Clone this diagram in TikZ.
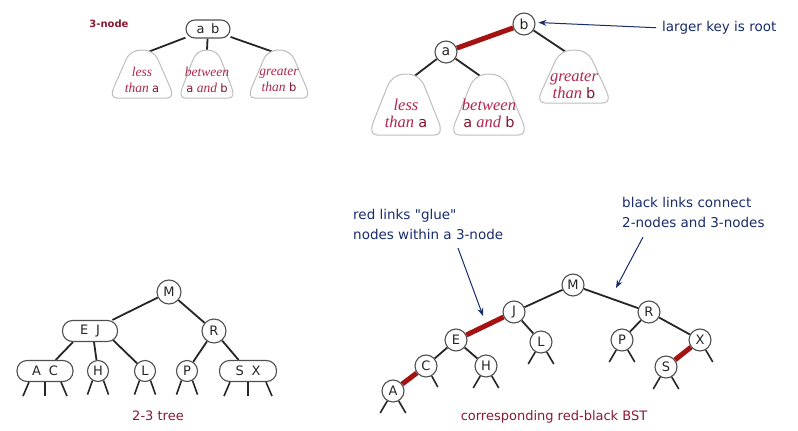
\documentclass[tikz,border=0pt]{standalone}
\usepackage{fontspec}
\setsansfont{DejaVu Sans}
\newfontfamily\rbserif{Liberation Serif}
\usetikzlibrary{arrows.meta,calc}
\pgfdeclarelayer{background}
\pgfsetlayers{background,main}
\definecolor{lblred}{RGB}{140,25,50}
\definecolor{trired}{RGB}{178,38,78}
\definecolor{keyred}{RGB}{130,22,45}
\definecolor{linkred}{RGB}{165,18,18}
\definecolor{navy}{RGB}{25,45,110}
\definecolor{trigray}{RGB}{190,190,190}
\definecolor{nodegray}{RGB}{80,80,80}
\newcommand{\rbtks}[1]{{\sffamily\upshape\fontsize{11.5}{11.5}\selectfont\color{keyred}#1}}
\newcommand{\rbtkb}[1]{{\sffamily\upshape\fontsize{14.5}{14.5}\selectfont\color{keyred}#1}}
\newcommand{\subtri}[5]{%
  \begin{scope}[shift={(#2,#3)}]
    \draw[tri] (0,0) .. controls (0.25*#4,0) and (0.42*#4,0.08*#5) .. (0.5*#4,0.2*#5)
      -- (0.88*#4,0.78*#5)
      .. controls (0.96*#4,0.9*#5) and (0.95*#4,1.0*#5) .. (0.78*#4,1.0*#5)
      -- (-0.78*#4,1.0*#5)
      .. controls (-0.95*#4,1.0*#5) and (-0.96*#4,0.9*#5) .. (-0.88*#4,0.78*#5)
      -- (-0.5*#4,0.2*#5)
      .. controls (-0.42*#4,0.08*#5) and (-0.25*#4,0) .. (0,0) -- cycle;
    \coordinate (#1) at (0,0);
    \coordinate (#1-l) at (-0.24*#4,0.028*#5);
    \coordinate (#1-r) at (0.24*#4,0.028*#5);
  \end{scope}}
\begin{document}
\begin{tikzpicture}[x=1pt,y=-1pt,
  key/.style={circle, draw=nodegray, line width=1.1pt, fill=white, inner sep=0pt,
    minimum size=22pt, font=\sffamily\fontsize{13}{13}\selectfont, text=black!85},
  key3/.style={rectangle, rounded corners=10pt, draw=nodegray, line width=1.1pt,
    fill=white, inner sep=0pt, minimum height=21pt,
    font=\sffamily\fontsize{13}{13}\selectfont, text=black!85},
  link/.style={line width=1.8pt, black!85},
  redlink/.style={line width=5pt, linkred},
  stub/.style={line width=1.6pt, black!85},
  tri/.style={draw=trigray, line width=1pt, fill=white},
  trismall/.style={align=center, text=trired, font=\rbserif\itshape\fontsize{13.5}{15.5}\selectfont},
  tribig/.style={align=center, text=trired, font=\rbserif\itshape\fontsize{16.5}{17}\selectfont},
  note/.style={inner sep=0pt, align=left, text=navy, font=\sffamily\fontsize{13.5}{20}\selectfont},
  pointer/.style={navy, line width=1pt, -{Stealth[length=8pt,width=6pt]}},
  caption/.style={text=lblred, font=\sffamily\fontsize{13}{13}\selectfont}]
\begin{pgfonlayer}{background}
\fill[white] (0,0) rectangle (798,431);
\end{pgfonlayer}
\useasboundingbox (0,0) rectangle (798,431);

% ---------- top left: 3-node ----------
\node[text=lblred, font=\sffamily\bfseries\fontsize{10}{10}\selectfont] (lbl3) at (109,24) {3-node};
\node[key3, minimum width=44pt, minimum height=18pt, rounded corners=9pt] (ab) at (208,29) {a\hspace{0.5em}b};
\subtri{t1}{142}{50}{32}{48}
\subtri{t2}{207}{50}{28}{48}
\subtri{t3}{279}{50}{31}{48}
\node[trismall] (t1txt) at (142,80) {less\\than \rbtks{a}};
\node[trismall] (t2txt) at (207,80) {between\\\rbtks{a} and \rbtks{b}};
\node[trismall] (t3txt) at (279,80) {greater\\than \rbtks{b}};
\begin{pgfonlayer}{background}
\draw[link] (ab) -- (t1-r);
\draw[link] (ab) -- (t2);
\draw[link] (ab) -- (t3-l);
\end{pgfonlayer}

% ---------- top right: red-black equivalent ----------
\node[key, font=\sffamily\fontsize{14}{14}\selectfont] (b) at (524,24) {b};
\node[key, font=\sffamily\fontsize{14}{14}\selectfont] (a) at (446,52) {a};
\subtri{T1}{406}{74}{37}{61}
\subtri{T2}{489}{74}{38}{61}
\subtri{T3}{574}{50}{37}{53}
\node[tribig] (T1txt) at (406,113) {less\\than \rbtkb{a}};
\node[tribig] (T2txt) at (489,113) {between\\\rbtkb{a} and \rbtkb{b}};
\node[tribig] (T3txt) at (574,85) {greater\\than \rbtkb{b}};
\begin{pgfonlayer}{background}
\draw[redlink] (a) -- (b);
\draw[link] (a) -- (T1-r);
\draw[link] (a) -- (T2-l);
\draw[link] (b) -- (T3-l);
\end{pgfonlayer}
\node[note, anchor=west] (lk) at (662,28) {larger key is root};
\draw[pointer, shorten <=6pt, shorten >=3pt] (lk.west) -- (b.8);

% ---------- bottom left: 2-3 tree ----------
\node[key, minimum size=24pt] (M1) at (169,292) {M};
\node[key3, minimum width=55pt] (EJ) at (90,331) {E\hspace{0.6em}J};
\node[key, minimum size=24pt] (R1) at (214,331) {R};
\node[key3, minimum width=56pt] (AC) at (45,371) {A\hspace{0.6em}C};
\node[key, minimum size=21pt] (H1) at (98,371) {H};
\node[key, minimum size=21pt] (L1) at (145,371) {L};
\node[key, minimum size=21pt] (P1) at (187,371) {P};
\node[key3, minimum width=57pt] (SX) at (248,371) {S\hspace{0.6em}X};
\begin{pgfonlayer}{background}
\draw[link] (M1) -- (EJ);
\draw[link] (M1) -- (R1);
\draw[link] ($(EJ.south)+(-17,0)$) -- (AC);
\draw[link] ($(EJ.south)+(4,0)$) -- (H1);
\draw[link] ($(EJ.south east)+(-5,-2)$) -- (L1);
\draw[link] (R1) -- (P1);
\draw[link] (R1) -- (SX);
\end{pgfonlayer}
\draw[stub] ($(AC.south)+(-16,0)$) -- ++(-6,14);
\draw[stub] (AC.south) -- ++(0,14);
\draw[stub] ($(AC.south)+(16,0)$) -- ++(6,14);
\draw[stub] (H1.240) -- ++(-5,14);
\draw[stub] (H1.300) -- ++(5,14);
\draw[stub] (L1.240) -- ++(-5,14);
\draw[stub] (L1.300) -- ++(5,14);
\draw[stub] (P1.240) -- ++(-5,14);
\draw[stub] (P1.300) -- ++(5,14);
\draw[stub] ($(SX.south)+(-18,0)$) -- ++(-6,14);
\draw[stub] (SX.south) -- ++(0,14);
\draw[stub] ($(SX.south)+(18,0)$) -- ++(6,14);
\node[caption] (cap1) at (158,416) {2-3 tree};

% ---------- bottom right: red-black BST ----------
\node[key] (M2) at (573,285) {M};
\node[key] (J2) at (514,312) {J};
\node[key] (R2) at (649,312) {R};
\node[key] (E2) at (456,340) {E};
\node[key] (L2) at (541,342) {L};
\node[key] (P2) at (622,340) {P};
\node[key] (X2) at (700,340) {X};
\node[key] (C2) at (426,366) {C};
\node[key] (H2) at (486,366) {H};
\node[key] (S2) at (666,367) {S};
\node[key] (A2) at (393,391) {A};
\begin{pgfonlayer}{background}
\draw[link] (M2) -- (J2);
\draw[link] (M2) -- (R2);
\draw[redlink] (J2) -- (E2);
\draw[link] (J2) -- (L2);
\draw[link] (E2) -- (C2);
\draw[link] (E2) -- (H2);
\draw[redlink] (C2) -- (A2);
\draw[link] (R2) -- (P2);
\draw[link] (R2) -- (X2);
\draw[redlink] (X2) -- (S2);
\end{pgfonlayer}
\foreach \n in {A2,H2,L2,P2,S2}{
  \draw[stub] (\n.240) -- ++(-7,12);
  \draw[stub] (\n.300) -- ++(7,12);
}
\draw[stub] (C2.300) -- ++(6,11);
\draw[stub] (X2.300) -- ++(7,12);
\node[caption] (cap2) at (554,417) {corresponding red-black BST};

\node[note, anchor=north west] (rl) at (353,209) {red links \textquotedbl glue\textquotedbl\\nodes within a 3-node};
\node[note, anchor=north west] (bl) at (622,197) {black links connect\\2-nodes and 3-nodes};
\coordinate (g1) at (458,248);
\coordinate (g2) at (483,316);
\coordinate (k1) at (643,237);
\coordinate (k2) at (616,288);
\draw[pointer] (g1) -- (g2);
\draw[pointer] (k1) -- (k2);
\end{tikzpicture}
\end{document}
